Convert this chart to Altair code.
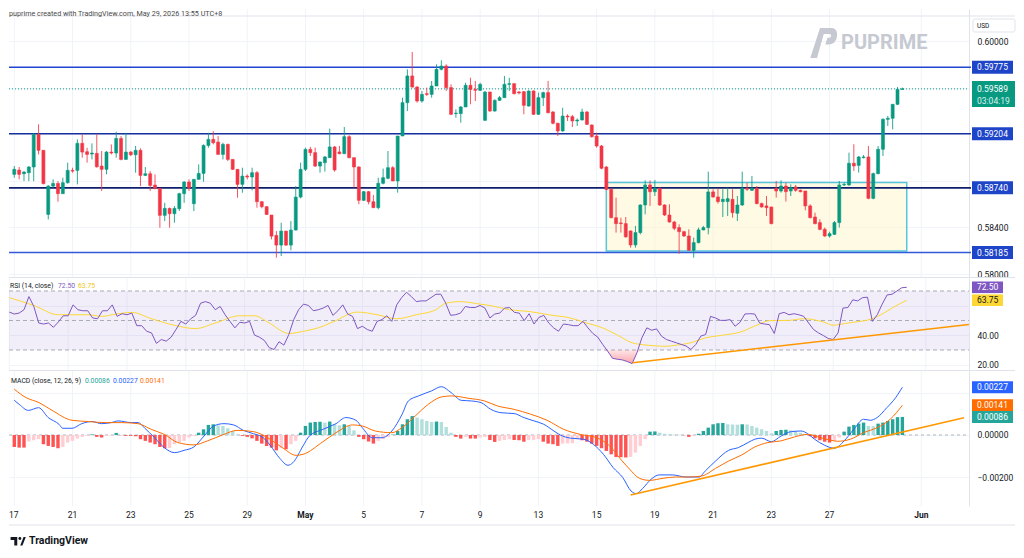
import altair as alt
import pandas as pd

# ---------------- data ----------------
opens = [
0.58856,0.58893,0.58861,0.58870,0.58919,0.59199,0.59062,0.58512,0.58755,0.58778,
0.58690,0.58784,0.58890,0.58890,0.59122,0.59050,0.59030,0.59036,0.58927,0.58899,
0.59047,0.59039,0.59164,0.58984,0.59047,0.59024,0.59062,0.58847,0.58861,0.58764,
0.58735,0.58504,0.58564,0.58518,0.58561,0.58690,0.58790,0.58604,0.58813,0.58864,
0.59104,0.59156,0.59133,0.59027,0.59113,0.58984,0.58899,0.58770,0.58841,0.58833,
0.58870,0.58621,0.58578,0.58507,0.58332,0.58249,0.58369,0.58249,0.58378,0.58661,
0.58899,0.59070,0.59042,0.58927,0.58956,0.58999,0.59091,0.59048,0.59033,0.59179,
0.58999,0.58919,0.58633,0.58707,0.58621,0.58570,0.58779,0.58822,0.58913,0.58799,
0.59185,0.59471,0.59700,0.59605,0.59485,0.59548,0.59542,0.59614,0.59757,0.59785,
0.59600,0.59377,0.59377,0.59434,0.59620,0.59585,0.59577,0.59319,0.59562,0.59399,
0.59491,0.59514,0.59628,0.59634,0.59562,0.59565,0.59442,0.59571,0.59371,0.59514,
0.59557,0.59391,0.59294,0.59228,0.59356,0.59351,0.59314,0.59322,0.59391,0.59279,
0.59185,0.59099,0.58919,0.58727,0.58484,0.58439,0.58433,0.58370,0.58250,0.58356,
0.58593,0.58765,0.58707,0.58736,0.58593,0.58507,0.58447,0.58399,0.58364,0.58327,
0.58204,0.58270,0.58379,0.58399,0.58705,0.58662,0.58622,0.58622,0.58642,0.58522,
0.58593,0.58736,0.58719,0.58736,0.58605,0.58585,0.58576,0.58736,0.58713,0.58756,
0.58713,0.58748,0.58719,0.58713,0.58585,0.58490,0.58442,0.58384,0.58327,0.58341,
0.58442,0.58765,0.58765,0.58951,0.58933,0.58999,0.59005,0.58650,0.58862,0.59071,
0.59328,0.59337,0.59457,0.59585]
highs = [
0.58927,0.58919,0.58884,0.58927,0.59210,0.59285,0.59062,0.58764,0.58813,0.58798,
0.58827,0.58956,0.58913,0.59156,0.59199,0.59084,0.59122,0.59199,0.59056,0.59056,
0.59113,0.59222,0.59184,0.59213,0.59056,0.59099,0.59079,0.58919,0.58884,0.58856,
0.58735,0.58612,0.58570,0.58584,0.58698,0.58798,0.58813,0.58813,0.58941,0.59113,
0.59213,0.59227,0.59184,0.59127,0.59119,0.58984,0.58899,0.58913,0.58856,0.58913,
0.58884,0.58627,0.58584,0.58507,0.58369,0.58441,0.58369,0.58455,0.58755,0.58956,
0.59085,0.59091,0.59085,0.58965,0.59013,0.59248,0.59099,0.59099,0.59262,0.59191,
0.58999,0.58925,0.58713,0.58713,0.58679,0.58827,0.58905,0.59056,0.58927,0.59185,
0.59514,0.59757,0.59906,0.59614,0.59571,0.59600,0.59657,0.59800,0.59834,0.59800,
0.59628,0.59414,0.59442,0.59642,0.59685,0.59657,0.59642,0.59571,0.59565,0.59500,
0.59528,0.59700,0.59685,0.59634,0.59571,0.59571,0.59577,0.59577,0.59557,0.59565,
0.59657,0.59399,0.59299,0.59428,0.59371,0.59365,0.59336,0.59419,0.59399,0.59285,
0.59214,0.59108,0.58928,0.58736,0.58656,0.58484,0.58490,0.58376,0.58413,0.58599,
0.58805,0.58805,0.58808,0.58742,0.58599,0.58599,0.58456,0.58427,0.58370,0.58384,
0.58313,0.58399,0.58413,0.58879,0.58728,0.58736,0.58728,0.58742,0.58728,0.58670,
0.58879,0.58785,0.58842,0.58756,0.58613,0.58670,0.58576,0.58799,0.58805,0.58785,
0.58770,0.58765,0.58725,0.58713,0.58599,0.58527,0.58470,0.58399,0.58364,0.58456,
0.58799,0.58785,0.59042,0.59114,0.59014,0.59022,0.59099,0.58871,0.59099,0.59337,
0.59357,0.59457,0.59605,0.59600]
lows = [
0.58827,0.58813,0.58798,0.58798,0.58798,0.59027,0.58770,0.58469,0.58741,0.58621,
0.58690,0.58776,0.58870,0.58770,0.58999,0.58956,0.58984,0.58913,0.58713,0.58856,
0.59027,0.58999,0.58976,0.58984,0.59013,0.58870,0.58755,0.58841,0.58713,0.58727,
0.58398,0.58455,0.58398,0.58441,0.58541,0.58612,0.58713,0.58541,0.58813,0.58793,
0.59084,0.59113,0.59027,0.58984,0.58970,0.58893,0.58655,0.58698,0.58813,0.58718,
0.58570,0.58564,0.58507,0.58298,0.58141,0.58155,0.58241,0.58204,0.58375,0.58650,
0.58885,0.59013,0.58919,0.58870,0.58879,0.58999,0.58879,0.59028,0.59033,0.58993,
0.58742,0.58599,0.58627,0.58599,0.58570,0.58556,0.58770,0.58813,0.58799,0.58699,
0.59185,0.59399,0.59600,0.59471,0.59471,0.59528,0.59514,0.59614,0.59748,0.59571,
0.59365,0.59342,0.59299,0.59434,0.59457,0.59485,0.59571,0.59319,0.59394,0.59394,
0.59485,0.59514,0.59571,0.59542,0.59542,0.59371,0.59437,0.59365,0.59365,0.59442,
0.59379,0.59285,0.59185,0.59222,0.59314,0.59262,0.59271,0.59319,0.59279,0.59171,
0.59085,0.58899,0.58719,0.58479,0.58356,0.58356,0.58313,0.58227,0.58227,0.58341,
0.58513,0.58585,0.58670,0.58585,0.58499,0.58442,0.58376,0.58175,0.58319,0.58198,
0.58141,0.58264,0.58376,0.58341,0.58656,0.58605,0.58490,0.58499,0.58484,0.58456,
0.58585,0.58713,0.58713,0.58599,0.58570,0.58499,0.58427,0.58656,0.58699,0.58622,
0.58670,0.58707,0.58702,0.58547,0.58479,0.58427,0.58376,0.58319,0.58313,0.58336,
0.58399,0.58756,0.58756,0.58885,0.58871,0.58993,0.58642,0.58642,0.58856,0.59014,
0.59271,0.59242,0.59451,0.59580]
closes = [
0.58899,0.58856,0.58876,0.58919,0.59199,0.59062,0.58776,0.58755,0.58778,0.58690,
0.58784,0.58890,0.58884,0.59122,0.59047,0.59027,0.59039,0.58921,0.58899,0.59047,
0.59039,0.59164,0.58984,0.59047,0.59024,0.59062,0.58847,0.58861,0.58761,0.58735,
0.58504,0.58564,0.58518,0.58564,0.58690,0.58790,0.58741,0.58813,0.58864,0.59104,
0.59156,0.59127,0.59027,0.59113,0.58984,0.58899,0.58770,0.58841,0.58833,0.58870,
0.58621,0.58578,0.58512,0.58326,0.58249,0.58369,0.58249,0.58378,0.58661,0.58899,
0.59070,0.59042,0.58927,0.58962,0.59005,0.59091,0.58893,0.59033,0.59179,0.58999,
0.58919,0.58633,0.58707,0.58621,0.58570,0.58779,0.58827,0.58913,0.58799,0.59185,
0.59471,0.59700,0.59605,0.59485,0.59542,0.59542,0.59614,0.59757,0.59785,0.59600,
0.59371,0.59382,0.59434,0.59620,0.59585,0.59577,0.59628,0.59562,0.59399,0.59491,
0.59514,0.59628,0.59634,0.59548,0.59554,0.59448,0.59571,0.59371,0.59514,0.59557,
0.59385,0.59294,0.59228,0.59356,0.59348,0.59314,0.59322,0.59391,0.59285,0.59179,
0.59099,0.58908,0.58727,0.58484,0.58433,0.58433,0.58319,0.58250,0.58356,0.58593,
0.58765,0.58707,0.58736,0.58593,0.58507,0.58447,0.58393,0.58364,0.58327,0.58204,
0.58270,0.58379,0.58399,0.58705,0.58662,0.58622,0.58642,0.58647,0.58527,0.58593,
0.58736,0.58728,0.58736,0.58605,0.58576,0.58570,0.58433,0.58713,0.58756,0.58707,
0.58742,0.58719,0.58707,0.58585,0.58484,0.58433,0.58384,0.58327,0.58347,0.58442,
0.58765,0.58770,0.58951,0.58928,0.59005,0.59005,0.58650,0.58862,0.59071,0.59328,
0.59337,0.59457,0.59585,0.59589]

rsi_vals = [
55.7,54.4,55.0,57.3,66.2,59.5,48.3,47.6,48.3,45.4,
49.0,53.2,53.2,60.6,57.3,56.6,56.6,51.7,51.2,56.6,
56.6,60.6,52.8,54.6,53.9,55.0,46.5,46.5,42.7,41.6,
34.5,37.1,36.0,38.7,43.9,49.4,47.6,51.2,53.5,61.7,
62.8,61.7,57.3,59.5,53.9,49.4,45.0,48.8,48.3,49.4,
40.1,38.7,36.5,31.6,30.3,35.6,33.3,40.5,50.6,57.3,
61.1,60.2,56.6,57.3,58.4,60.2,53.5,56.6,60.6,54.4,
52.8,44.5,46.1,43.9,42.7,49.4,50.6,53.2,49.4,60.6,
65.5,69.1,66.2,62.8,63.3,63.3,65.5,67.8,67.8,61.7,
53.5,53.9,55.0,59.5,58.8,58.8,60.2,58.4,51.7,54.4,
55.0,58.4,58.8,55.5,55.0,49.9,54.6,47.6,52.1,53.5,
48.3,45.0,42.7,47.6,47.2,46.5,46.5,49.4,45.0,41.2,
38.7,33.8,29.3,24.4,23.7,23.3,22.2,20.8,28.2,38.3,
45.0,43.4,44.3,39.4,37.1,36.0,34.9,33.8,32.7,30.4,
33.8,39.4,40.5,52.8,51.7,50.1,50.1,50.6,46.1,48.8,
54.4,54.6,54.4,48.3,47.6,47.2,41.2,54.6,55.5,53.9,
54.6,53.9,52.8,48.3,43.9,41.6,39.8,37.8,37.1,41.6,
58.4,58.8,64.0,63.3,65.5,65.8,49.4,53.9,61.1,67.3,
67.8,70.0,72.2,72.5]

rsi_ma_bars = [0,5,10,16,19,21,25,29,34,38,42,47,50,53,57,60,63,66,71,75,
               79,83,87,89,92,96,98,102,106,110,115,117,121,124,127,130,134,136,139,142,
               145,149,153,155,159,162,166,168,171,176,178,180,183]
rsi_ma_vals = [65.5,60.2,53.9,53.9,52.8,53.9,55.5,51.2,46.5,44.5,48.3,53.2,53.2,48.3,41.2,42.7,45.0,49.0,55.7,53.9,
               51.2,53.9,57.3,61.7,62.8,61.1,60.2,57.3,56.1,53.9,51.2,49.0,45.0,40.1,34.9,33.3,32.5,33.3,34.9,38.3,
               39.8,42.1,47.6,49.9,50.1,51.2,49.0,46.8,48.3,51.2,54.4,58.4,63.75]

macd_bars = [0,1,2.9,5,7,9.2,10,11.9,13.9,16,18,20,21.4,24.1,25.5,26.9,28.9,30.9,33,35,
             37,39.1,41.1,43.2,45.2,47.2,49.3,51.3,52.7,54.7,56.4,57.4,59.5,60.8,63.6,66.3,68.3,70.4,71.7,73.8,
             75.8,77.8,79.9,81.2,83.3,86,88,90,92.1,94.2,96.2,98.2,100.3,103,105,107.1,109.1,111.2,112.5,114.6,
             117.3,119.3,121.4,123.4,125.4,127.1,128.2,129.5,131.2,132.9,135.6,138.4,141.1,142.4,144.5,147.2,149.2,151.2,152.6,154,
             156,158,160.1,162.1,163.5,164.9,166.9,169,171,173,175,176.4,177.8,179.8,181.2,183]
macd_vals = [0.00165,0.00146,0.00117,0.00130,0.00083,0.00051,0.00032,0.00032,0.00054,0.00064,
             0.00054,0.00059,0.00067,0.00059,0.00059,0.00032,-0.00013,-0.00060,-0.00084,-0.00073,
             -0.00057,-0.00005,0.00043,0.00054,0.00048,0.00022,0.00006,-0.00013,-0.00048,-0.00111,
             -0.00144,-0.00132,-0.00052,-0.00005,0.00027,0.00054,0.00083,0.00070,0.00035,-0.00013,
             -0.00013,0.00019,0.00098,0.00162,0.00186,0.00210,0.00230,0.00202,0.00165,0.00162,
             0.00154,0.00122,0.00106,0.00102,0.00083,0.00067,0.00051,0.00019,0.00000,-0.00015,
             -0.00020,-0.00044,-0.00092,-0.00155,-0.00203,-0.00267,-0.00279,-0.00254,-0.00211,-0.00190,
             -0.00190,-0.00200,-0.00200,-0.00171,-0.00124,-0.00073,-0.00060,-0.00036,-0.00020,-0.00015,
             -0.00032,-0.00005,0.00016,0.00019,0.00006,-0.00020,-0.00048,-0.00063,-0.00028,0.00027,
             0.00075,0.00070,0.00083,0.00130,0.00165,0.00227]

signal_bars = [0,2.4,5.1,7.8,11.9,15.3,18.7,22.1,25.5,28.2,30.9,33.7,37,39.8,43.2,45.9,49.3,52.7,55.4,58.1,
               59.5,63.6,66.3,69.7,71.7,74.4,77.8,79.9,82.6,85.3,88,90.1,93.5,96.9,99.6,103,106.4,109.8,113.2,116.6,
               120,122.7,124.8,126.8,128.8,130.9,133.7,136.3,139,141.7,144.5,147.2,149.9,152.6,155.3,158,160.8,163.5,166.2,168.3,
               169.6,172.3,175,177.8,180.5,183]
signal_vals = [0.00218,0.00178,0.00154,0.00117,0.00070,0.00064,0.00059,0.00059,0.00054,0.00027,
               0.00003,-0.00036,-0.00047,-0.00028,0.00003,0.00022,0.00016,-0.00020,-0.00063,-0.00097,
               -0.00092,-0.00032,0.00011,0.00048,0.00043,0.00019,0.00011,0.00035,0.00090,0.00146,
               0.00181,0.00186,0.00175,0.00162,0.00138,0.00122,0.00099,0.00070,0.00027,0.00003,
               -0.00013,-0.00052,-0.00111,-0.00163,-0.00206,-0.00216,-0.00206,-0.00200,-0.00200,-0.00195,
               -0.00159,-0.00124,-0.00095,-0.00057,-0.00036,-0.00028,-0.00009,0.00003,-0.00013,-0.00025,
               -0.00030,-0.00020,0.00011,0.00035,0.00075,0.00141]

hist_vals = [
-0.00057,-0.00060,-0.00060,-0.00031,-0.00025,-0.00020,-0.00044,-0.00052,-0.00057,-0.00063,
-0.00057,-0.00036,-0.00028,-0.00017,-0.00009,-0.00004,0.00003,-0.00009,-0.00012,-0.00004,
-0.00003,0.00010,-0.00001,-0.00004,-0.00004,-0.00006,-0.00020,-0.00028,-0.00036,-0.00044,
-0.00057,-0.00063,-0.00062,-0.00044,-0.00036,-0.00028,-0.00012,-0.00004,0.00011,0.00027,
0.00048,0.00051,0.00046,0.00043,0.00032,0.00019,0.00003,-0.00004,-0.00009,-0.00016,
-0.00028,-0.00041,-0.00052,-0.00060,-0.00073,-0.00063,-0.00068,-0.00044,-0.00028,0.00011,
0.00043,0.00059,0.00062,0.00063,0.00059,0.00064,0.00051,0.00046,0.00051,0.00043,
0.00022,-0.00009,-0.00020,-0.00031,-0.00041,-0.00028,-0.00020,-0.00009,0.00002,0.00019,
0.00051,0.00075,0.00090,0.00083,0.00075,0.00067,0.00062,0.00064,0.00062,0.00038,
0.00011,-0.00009,-0.00017,-0.00009,-0.00017,-0.00017,-0.00012,-0.00009,-0.00024,-0.00033,
-0.00028,-0.00024,-0.00020,-0.00024,-0.00025,-0.00032,-0.00024,-0.00023,-0.00020,-0.00032,
-0.00041,-0.00044,-0.00052,-0.00041,-0.00040,-0.00039,-0.00020,-0.00025,-0.00032,-0.00041,
-0.00052,-0.00063,-0.00076,-0.00092,-0.00105,-0.00106,-0.00107,-0.00104,-0.00084,-0.00052,
-0.00020,0.00016,0.00017,0.00011,0.00006,0.00003,0.00002,0.00001,-0.00001,-0.00009,
-0.00004,0.00006,0.00019,0.00035,0.00051,0.00056,0.00057,0.00051,0.00050,0.00049,
0.00051,0.00050,0.00043,0.00035,0.00027,0.00019,0.00008,0.00019,0.00024,0.00025,
0.00022,0.00019,0.00011,0.00003,-0.00006,-0.00016,-0.00025,-0.00032,-0.00036,-0.00028,
-0.00012,0.00016,0.00040,0.00048,0.00054,0.00059,0.00043,0.00042,0.00054,0.00059,
0.00067,0.00075,0.00085,0.00086]

levels = [0.59775, 0.59204, 0.58740, 0.58185]
level_colors = ["#1f45d1", "#17309f", "#0f1f6e", "#3358d8"]
current_price = 0.59589
countdown = "03:04:19"
rsi_last, rsi_ma_last = 72.50, 63.75
macd_last, signal_last, hist_last = 0.00227, 0.00141, 0.00086
box_bars = [122.0, 183.9]
box_prices = [0.58787, 0.58198]
rsi_trend_bars = [127.1, 195.7]
rsi_trend_vals = [21.4, 47.3]
macd_trend_bars = [127.0, 195.7]
macd_trend_vals = [-0.00286, 0.00082]
date_labels = ["17", "21", "23", "25", "29", "May", "5", "7", "9", "13", "15", "19", "21", "23", "27", "Jun"]
date_bars = [0, 12, 24, 36, 48, 60, 72, 84, 96, 108, 120, 132, 144, 156, 168, 186.9]
month_labels = ["May", "Jun"]
price_ticks = [0.580, 0.582, 0.584, 0.586, 0.588, 0.590, 0.592, 0.594, 0.596, 0.598, 0.600]
rsi_ticks = [20, 40, 60]
macd_ticks = [-0.002, 0.0, 0.002]
header = "puprime created with TradingView.com, May 29, 2026 13:55 UTC+8"

# tick labels that sit under the coloured value boxes (grid line kept, label hidden)
main_hidden = "round(datum.value*1000)==582 || round(datum.value*1000)==588 || round(datum.value*1000)==592 || round(datum.value*1000)==596 || round(datum.value*1000)==598"
rsi_hidden = "datum.value == 60"
macd_hidden = "datum.value > 0.001"

# ---------------- layout / style ----------------
W = 960
H_MAIN, H_RSI, H_MACD = 268, 92, 135
FONT = "Roboto"
TXT = "#131722"
GRID = "#f0f3fa"
SEP = "#e0e3eb"
UP, DOWN = "#089981", "#f23645"
XS = alt.Scale(domain=[-0.06, 195.7], nice=False, zero=False)


def xq(field):
    return alt.X(f"{field}:Q", scale=XS, axis=None, title=None)


def raxis(values, fmt, hidden):
    return alt.Axis(orient="right", values=values, format=fmt, grid=True, gridColor=GRID,
                    ticks=False, labelPadding=8, domain=True, domainColor=SEP,
                    labelColor=TXT, labelFontSize=8.5, labelFont=FONT, title=None,
                    labelExpr=f"({hidden}) ? '' : datum.label")


def txt(t, x, y, **kw):
    props = dict(align="left", baseline="middle", font=FONT, fontSize=6.8, color=TXT)
    props.update(kw)
    return alt.Chart(pd.DataFrame({"t": [t]})).mark_text(x=x, y=y, **props).encode(text="t:N")


def hline(y, x1, x2, color=SEP, width=1):
    return alt.Chart(pd.DataFrame({"a": [0]})).mark_rule(color=color, strokeWidth=width).encode(
        x=alt.value(x1), x2=alt.value(x2), y=alt.value(y))


def value_box(df, ys, x1, x2, off, fill, tcolor="white", fs=8.5):
    b = alt.Chart(df).mark_rect(yOffset=-off, y2Offset=off, fill=fill).encode(
        y=alt.Y("v:Q", scale=ys, title=None), y2="v:Q", x=alt.value(x1), x2=alt.value(x2))
    t = alt.Chart(df).mark_text(align="left", baseline="middle", color=tcolor, font=FONT, fontSize=fs).encode(
        y=alt.Y("v:Q", scale=ys, title=None), x=alt.value(x1 + 5), text="t:N")
    return [b, t]


n = len(closes)
candles = pd.DataFrame({"i": list(range(n)), "o": opens, "h": highs, "l": lows, "c": closes})
candles["col"] = [UP if c >= o else DOWN for o, c in zip(opens, closes)]
candles["blo"] = candles[["o", "c"]].min(axis=1)
candles["bhi"] = candles[["o", "c"]].max(axis=1)
dates = pd.DataFrame({"b": date_bars, "t": date_labels})

# ---------------- main price panel ----------------
ys_main = alt.Scale(domain=[0.579751, 0.602746], nice=False, zero=False)

vgrid_main = alt.Chart(dates).mark_rule(color=GRID).encode(x=xq("b"))
box_df = pd.DataFrame({"x1": [box_bars[0]], "x2": [box_bars[1]], "y1": [box_prices[0]], "y2": [box_prices[1]]})
box = alt.Chart(box_df).mark_rect(fill="#fff3c4", fillOpacity=0.45, stroke="#56c5dc", strokeWidth=1.5).encode(
    x=xq("x1"), x2="x2:Q", y=alt.Y("y1:Q", scale=ys_main, title=None), y2="y2:Q")
lev_df = pd.DataFrame({"v": levels, "t": [f"{v:.5f}" for v in levels], "col": level_colors})
lev_lines = alt.Chart(lev_df).mark_rule(strokeWidth=1.6).encode(
    y=alt.Y("v:Q", scale=ys_main, title=None), x=alt.value(0), x2=alt.value(W + 2),
    color=alt.Color("col:N", scale=None))
cur_df = pd.DataFrame({"v": [current_price], "t": [f"{current_price:.5f}"], "cd": [countdown]})
cur_line = alt.Chart(cur_df).mark_rule(color=UP, strokeDash=[1, 2], strokeWidth=1).encode(
    y=alt.Y("v:Q", scale=ys_main, title=None), x=alt.value(0), x2=alt.value(W))
wicks = alt.Chart(candles).mark_rule(strokeWidth=1, clip=True, opacity=0.85).encode(
    x=xq("i"), y=alt.Y("l:Q", scale=ys_main, axis=raxis(price_ticks, ".5f", main_hidden), title=None), y2="h:Q",
    color=alt.Color("col:N", scale=None))
bodies = alt.Chart(candles).mark_bar(width=3.0, clip=True, strokeWidth=0.6).encode(
    x=xq("i"), y=alt.Y("blo:Q", scale=ys_main, title=None), y2="bhi:Q",
    color=alt.Color("col:N", scale=None), stroke=alt.Stroke("col:N", scale=None))
lev_labels = value_box(lev_df, ys_main, 963, 1004, 6.5, "#1e44c8")
cur_box = alt.Chart(cur_df).mark_rect(yOffset=-8, y2Offset=18, fill=UP).encode(
    y=alt.Y("v:Q", scale=ys_main, title=None), y2="v:Q", x=alt.value(963), x2=alt.value(1006))
cur_t1 = alt.Chart(cur_df).mark_text(align="left", baseline="middle", color="white", font=FONT, fontSize=8.5).encode(
    y=alt.Y("v:Q", scale=ys_main, title=None), x=alt.value(968), text="t:N")
cur_t2 = alt.Chart(cur_df).mark_text(align="left", baseline="middle", color="#d8f3ee", font=FONT, fontSize=8.5, dy=12.5).encode(
    y=alt.Y("v:Q", scale=ys_main, title=None), x=alt.value(968), text="cd:N")
usd_box = alt.Chart(pd.DataFrame({"a": [0]})).mark_rect(fill="white", stroke=SEP, cornerRadius=2).encode(
    x=alt.value(964), x2=alt.value(1006), y=alt.value(10), y2=alt.value(23))
usd_t = txt("USD", 968, 16.5, fontSize=6.5)
wm_t = txt("PUPRIME", 832, 34, fontSize=20, fontWeight="bold", color="#c6c9d1")
icon_p = ("M -0.2 -1 L 0.55 -1 C 0.95 -1 1.0 -0.6 0.9 -0.3 C 0.8 0 0.6 0.1 0.3 0.1 L 0.15 0.1 "
          "L 0.3 -0.35 L 0.45 -0.35 C 0.55 -0.35 0.58 -0.6 0.45 -0.6 L 0.05 -0.6 L -0.4 1 L -0.85 1 Z")
wm_icon = alt.Chart(pd.DataFrame({"a": [0]})).mark_point(shape=icon_p, filled=True, size=900, color="#c6c9d1", opacity=1).encode(
    x=alt.value(814), y=alt.value(34))

main = alt.layer(
    vgrid_main, box, lev_lines, cur_line, wicks, bodies, *lev_labels, cur_box, cur_t1, cur_t2,
    hline(7, 0, 1006), txt(header, 0, 1, baseline="top", fontSize=7.2, color="#4a4a4a"),
    usd_box, usd_t, wm_icon, wm_t,
).properties(width=W, height=H_MAIN)

# ---------------- RSI panel ----------------
ys_rsi = alt.Scale(domain=[16.44, 78.81], nice=False, zero=False)
rsi_df = pd.DataFrame({"i": list(range(n)), "v": rsi_vals})
band = alt.Chart(pd.DataFrame({"lo": [30], "hi": [70]})).mark_rect(fill="#7e57c2", fillOpacity=0.1).encode(
    y=alt.Y("lo:Q", scale=ys_rsi, title=None), y2="hi:Q", x=alt.value(0), x2=alt.value(W))
rsi_hl = alt.Chart(pd.DataFrame({"v": [70, 50, 30]})).mark_rule(color="#a9acb6", strokeDash=[4, 3]).encode(
    y=alt.Y("v:Q", scale=ys_rsi, title=None), x=alt.value(0), x2=alt.value(W))
os_df = rsi_df[(rsi_df["i"] >= 121) & (rsi_df["i"] <= 129)].copy()
os_df["lo"] = os_df["v"].clip(upper=30)
os_df["hi"] = 30
os_area = alt.Chart(os_df).mark_area(
    color=alt.Gradient(gradient="linear", x1=0, x2=0, y1=0, y2=1,
                       stops=[alt.GradientStop(offset=0, color="rgba(242,54,69,0.12)"),
                              alt.GradientStop(offset=1, color="rgba(242,54,69,0.45)")])).encode(
    x=xq("i"), y=alt.Y("hi:Q", scale=ys_rsi, title=None), y2="lo:Q")
vgrid_rsi = alt.Chart(dates).mark_rule(color=GRID).encode(x=xq("b"))
ma_df = pd.DataFrame({"i": rsi_ma_bars, "v": rsi_ma_vals})
rsi_ma = alt.Chart(ma_df).mark_line(color="#fdd835", strokeWidth=1, interpolate="monotone", clip=True).encode(
    x=xq("i"), y=alt.Y("v:Q", scale=ys_rsi, title=None))
rsi_line = alt.Chart(rsi_df).mark_line(color="#7e57c2", strokeWidth=1, clip=True).encode(
    x=xq("i"), y=alt.Y("v:Q", scale=ys_rsi, axis=raxis(rsi_ticks, ".2f", rsi_hidden), title=None))
rsi_tr = alt.Chart(pd.DataFrame({"i": rsi_trend_bars, "v": rsi_trend_vals})).mark_line(
    color="#ff9800", strokeWidth=1.5, clip=True).encode(x=xq("i"), y=alt.Y("v:Q", scale=ys_rsi, title=None))
rsi_lbl = (value_box(pd.DataFrame({"v": [rsi_last], "t": [f"{rsi_last:.2f}"]}), ys_rsi, 963, 994, 5.8, "#7e57c2")
           + value_box(pd.DataFrame({"v": [rsi_ma_last], "t": [f"{rsi_ma_last:.2f}"]}), ys_rsi, 963, 994, 5.8,
                       "#fdd835", tcolor=TXT))
rsi = alt.layer(
    vgrid_rsi, band, rsi_hl, os_area, rsi_ma, rsi_line, rsi_tr, *rsi_lbl, hline(-0.5, 0, 1006),
    txt("RSI (14, close)", 1, 8), txt(f"{rsi_last:.2f}", 49, 8, color="#7e57c2"),
    txt(f"{rsi_ma_last:.2f}", 69, 8, color="#f2c511"),
).properties(width=W, height=H_RSI)

# ---------------- MACD panel ----------------
ys_macd = alt.Scale(domain=[-0.00338, 0.003046], nice=False, zero=False)
hist_cols = []
prev = None
for h in hist_vals:
    if h >= 0:
        hist_cols.append("#26a69a" if (prev is None or h >= prev) else "#b2dfdb")
    else:
        hist_cols.append("#ff5252" if (prev is None or h <= prev) else "#ffcdd2")
    prev = h
hist_df = pd.DataFrame({"i": list(range(n)), "h": hist_vals, "col": hist_cols, "z": 0.0})
vgrid_macd = alt.Chart(dates).mark_rule(color=GRID).encode(x=xq("b"))
zero = alt.Chart(pd.DataFrame({"v": [0.0]})).mark_rule(color="#b2b5be", strokeDash=[3, 3]).encode(
    y=alt.Y("v:Q", scale=ys_macd, title=None), x=alt.value(0), x2=alt.value(W))
hist = alt.Chart(hist_df).mark_bar(width=3.4, clip=True).encode(
    x=xq("i"), y=alt.Y("h:Q", scale=ys_macd, axis=raxis(macd_ticks, ".5f", macd_hidden), title=None), y2="z:Q",
    color=alt.Color("col:N", scale=None))
macd_line = alt.Chart(pd.DataFrame({"i": macd_bars, "v": macd_vals})).mark_line(
    color="#2962ff", strokeWidth=1, interpolate="monotone", clip=True).encode(
    x=xq("i"), y=alt.Y("v:Q", scale=ys_macd, title=None))
sig_line = alt.Chart(pd.DataFrame({"i": signal_bars, "v": signal_vals})).mark_line(
    color="#ff6d00", strokeWidth=1, interpolate="monotone", clip=True).encode(
    x=xq("i"), y=alt.Y("v:Q", scale=ys_macd, title=None))
macd_tr = alt.Chart(pd.DataFrame({"i": macd_trend_bars, "v": macd_trend_vals})).mark_line(
    color="#ff9800", strokeWidth=1.5, clip=True).encode(x=xq("i"), y=alt.Y("v:Q", scale=ys_macd, title=None))
macd_lbl = (value_box(pd.DataFrame({"v": [macd_last], "t": [f"{macd_last:.5f}"]}), ys_macd, 963, 1004, 6, "#2962ff")
            + value_box(pd.DataFrame({"v": [signal_last], "t": [f"{signal_last:.5f}"]}), ys_macd, 963, 1004, 6, "#ff6d00")
            + value_box(pd.DataFrame({"v": [hist_last], "t": [f"{hist_last:.5f}"]}), ys_macd, 963, 1004, 6, "#26a69a"))
first = dates.iloc[:1]
rest = dates.iloc[1:]
d_norm = rest[~rest["t"].isin(month_labels)]
d_bold = rest[rest["t"].isin(month_labels)]
t_first = alt.Chart(first).mark_text(x=0, y=144, align="left", baseline="middle", font=FONT, fontSize=8.5, color=TXT).encode(text="t:N")
t_norm = alt.Chart(d_norm).mark_text(y=144, align="center", baseline="middle", font=FONT, fontSize=8.5, color=TXT).encode(
    x=xq("b"), text="t:N")
t_bold = alt.Chart(d_bold).mark_text(y=144, align="center", baseline="middle", font=FONT, fontSize=8.5,
                                     fontWeight="bold", color=TXT).encode(x=xq("b"), text="t:N")
tv_icon_path = ("M -1 -0.55 L -0.1 -0.55 L -0.1 0.6 L -0.5 0.6 L -0.5 -0.15 L -1 -0.15 Z "
                "M 0.05 -0.33 A 0.2 0.2 0 1 0 0.45 -0.33 A 0.2 0.2 0 1 0 0.05 -0.33 Z "
                "M 0.3 0.6 L 0.75 -0.55 L 1.05 -0.55 L 0.6 0.6 Z")
tv_icon = alt.Chart(pd.DataFrame({"a": [0]})).mark_point(shape=tv_icon_path, filled=True, size=220, color=TXT, opacity=1).encode(
    x=alt.value(9), y=alt.value(170))
macd = alt.layer(
    vgrid_macd, zero, hist, macd_line, sig_line, macd_tr, *macd_lbl, hline(-0.5, 0, 1006),
    txt("MACD (close, 12, 26, 9)", 2, 10), txt(f"{hist_last:.5f}", 76, 10, color="#26a69a"),
    txt(f"{macd_last:.5f}", 104, 10, color="#2962ff"), txt(f"{signal_last:.5f}", 131, 10, color="#ff6d00"),
    t_first, t_norm, t_bold, hline(154, 0, 1006),
    tv_icon, txt("TradingView", 20, 170, fontSize=10.5, fontWeight="bold"),
).properties(width=W, height=H_MACD)

chart = alt.vconcat(main, rsi, macd, spacing=1, bounds="flush", padding=0).configure_view(stroke=None)
chart.save("out.html", embed_options={"renderer": "svg", "actions": False})
